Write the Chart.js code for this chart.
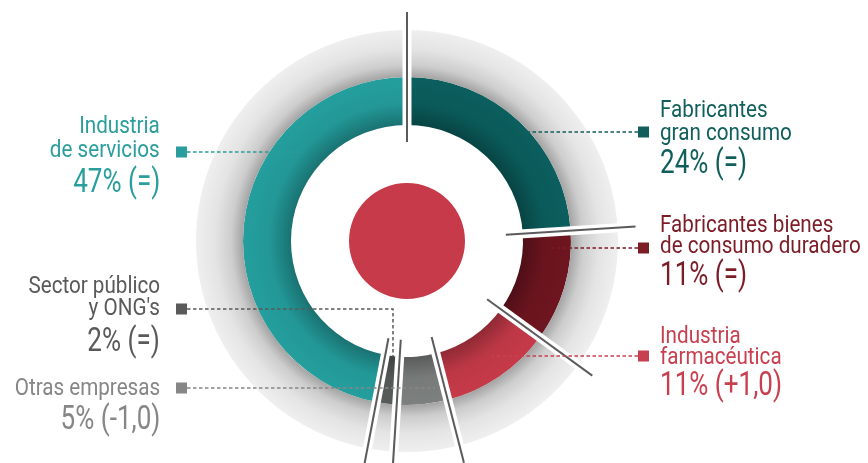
<!DOCTYPE html>
<html>
<head>
<meta charset="utf-8">
<script src="https://cdn.jsdelivr.net/npm/chart.js@4.4.1/dist/chart.umd.min.js"></script>
<style>
    html, body { margin: 0; padding: 0; background: #fff; overflow: hidden; }
    #wrap { position: relative; width: 868px; height: 463px; }
    #wrap canvas { position: absolute; left: 0; top: 0; }
    .lbl {
        position: absolute;
        white-space: nowrap;
        font-family: Roboto, "Open Sans", sans-serif;
        line-height: 1;
    }
</style>
</head>
<body>
<div id="wrap"><canvas id="sectorChart" width="868" height="463"></canvas></div>
<script>
// ========== datos ==========

const categories = [
    ['Fabricantes', 'gran consumo'],
    ['Fabricantes bienes', 'de consumo duradero'],
    ['Industria', 'farmacéutica'],
    ['Otras empresas'],
    ['Sector público', "y ONG's"],
    ['Industria', 'de servicios']
];
const shares = [24, 11, 11, 5, 2, 47];
const changes = ['(=)', '(=)', '(+1,0)', '(-1,0)', '(=)', '(=)'];

// ========== estilo / posiciones ==========

const SEG_COLORS = ['#0B5F5E', '#6E1520', '#C63A49', '#7C807F', '#575C5B', '#249F9E'];
const TEXT_COLORS = ['#105F5C', '#7B1C26', '#C8404F', '#868686', '#5A5A5A', '#2A9E9C'];
const CENTER_RED = '#C73A4A';
const RING_WEIGHTS = [47, 48, 58, 58];   // gris, color, hueco, centro

// side, baselines of the name lines, baseline of the value, leader y, leader end x, drop to y
const LABELS = [
    { side: 'right', base: [117, 140], valueBase: 173, lead: 132, endX: 512 },
    { side: 'right', base: [232, 253], valueBase: 285, lead: 248, endX: 548 },
    { side: 'right', base: [343, 364], valueBase: 395, lead: 356, endX: 492 },
    { side: 'left', base: [395], valueBase: 429, lead: 388, endX: 435 },
    { side: 'left', base: [293, 315], valueBase: 351, lead: 309, endX: 393, dropTo: 357 },
    { side: 'left', base: [133, 157], valueBase: 192, lead: 152, endX: 300 }
];

function shade(hex, f) {
    const n = parseInt(hex.slice(1), 16);
    const r = Math.round(((n >> 16) & 255) * f);
    const g = Math.round(((n >> 8) & 255) * f);
    const b = Math.round((n & 255) * f);
    return 'rgb(' + r + ',' + g + ',' + b + ')';
}

// radios de cada anillo a partir del área del gráfico
function ringGeom(chart, idx) {
    const a = chart.chartArea;
    const R = Math.min(a.right - a.left, a.bottom - a.top) / 2;
    const total = RING_WEIGHTS.reduce((s, w) => s + w, 0);
    const before = RING_WEIGHTS.slice(0, idx).reduce((s, w) => s + w, 0);
    const rout = R * (1 - before / total);
    const rin = rout - R * RING_WEIGHTS[idx] / total;
    return { cx: (a.left + a.right) / 2, cy: (a.top + a.bottom) / 2, rin: rin, rout: rout };
}

function validArea(chart) {
    const a = chart.chartArea;
    return a && isFinite(a.left) && a.right - a.left > 0 && a.bottom - a.top > 0;
}

// ========== plugin: separadores, guías y marcadores ==========

const decorPlugin = {
    id: 'decor',
    afterDatasetsDraw(chart) {
        const ctx = chart.ctx;
        const arcs = chart.getDatasetMeta(1).data;
        ctx.save();
        ctx.lineCap = 'butt';
        arcs.forEach(arc => {
            const ang = arc.startAngle;
            const c = Math.cos(ang), s = Math.sin(ang);
            ctx.strokeStyle = '#ffffff';
            ctx.lineWidth = 9;
            ctx.beginPath();
            ctx.moveTo(arc.x + c * 105, arc.y + s * 105);
            ctx.lineTo(arc.x + c * 216, arc.y + s * 216);
            ctx.stroke();
            ctx.strokeStyle = '#5b5b5b';
            ctx.lineWidth = 2;
            ctx.beginPath();
            ctx.moveTo(arc.x + c * 99, arc.y + s * 99);
            ctx.lineTo(arc.x + c * 229, arc.y + s * 229);
            ctx.stroke();
        });

        LABELS.forEach((l, i) => {
            const col = TEXT_COLORS[i];
            const sqX = l.side === 'right' ? 638 : 176;
            const startX = l.side === 'right' ? 638 : 187;
            ctx.strokeStyle = col;
            ctx.lineWidth = 1.5;
            ctx.setLineDash([3.5, 2.5]);
            ctx.beginPath();
            ctx.moveTo(startX, l.lead);
            ctx.lineTo(l.endX, l.lead);
            if (l.dropTo) ctx.lineTo(l.endX, l.dropTo);
            ctx.stroke();
            ctx.setLineDash([]);
            ctx.fillStyle = col;
            ctx.fillRect(sqX, l.lead - 5.5, 11, 11);
        });
        ctx.restore();
    }
};

// ========== gráfico ==========

const chart = new Chart(document.getElementById('sectorChart'), {
    type: 'doughnut',
    data: {
        labels: categories.map(c => c.join(' ')),
        datasets: [{
            // anillo gris exterior
            data: [100],
            weight: RING_WEIGHTS[0],
            borderWidth: 0,
            hoverBorderWidth: 0,
            backgroundColor: function(context) {
                const chart = context.chart;
                if (!validArea(chart)) return '#e4e4e4';
                const g = ringGeom(chart, 0);
                const grad = chart.ctx.createRadialGradient(g.cx, g.cy, g.rin, g.cx, g.cy, g.rout);
                grad.addColorStop(0, '#a4a4a4');
                grad.addColorStop(0.25, '#cdcdcd');
                grad.addColorStop(0.6, '#e4e4e4');
                grad.addColorStop(1, '#efefef');
                return grad;
            }
        }, {
            data: shares,
            weight: RING_WEIGHTS[1],
            borderWidth: 0,
            hoverBorderWidth: 0,
            backgroundColor: function(context) {
                const chart = context.chart;
                const base = SEG_COLORS[context.dataIndex];
                if (!validArea(chart)) return base;
                const g = ringGeom(chart, 1);
                const grad = chart.ctx.createRadialGradient(g.cx, g.cy, g.rin, g.cx, g.cy, g.rout);
                grad.addColorStop(0, shade(base, 0.72));
                grad.addColorStop(0.45, shade(base, 0.95));
                grad.addColorStop(1, base);
                return grad;
            }
        }, {
            // hueco blanco
            data: [100],
            weight: RING_WEIGHTS[2],
            borderWidth: 0,
            hoverBorderWidth: 0,
            backgroundColor: 'rgba(0,0,0,0)'
        }, {
            // círculo central
            data: [100],
            weight: RING_WEIGHTS[3],
            borderWidth: 0,
            hoverBorderWidth: 0,
            backgroundColor: CENTER_RED
        }]
    },
    options: {
        responsive: false,
        animation: false,
        cutout: 0,
        layout: {
            padding: { left: 196, right: 250, top: 30, bottom: 11 }
        },
        plugins: {
            legend: { display: false },
            tooltip: { enabled: false }
        },
        events: []
    },
    plugins: [decorPlugin]
});

// ========== etiquetas ==========

const wrap = document.getElementById('wrap');

function addLine(text, side, baseline, size, weight, color, sx) {
    const d = document.createElement('div');
    d.className = 'lbl';
    d.textContent = text;
    d.style.fontSize = size + 'px';
    d.style.fontWeight = weight;
    d.style.color = color;
    d.style.top = (baseline - 0.842 * size) + 'px';
    if (side === 'right') {
        d.style.left = '660px';
        d.style.transformOrigin = 'left center';
    } else {
        d.style.right = (868 - 160) + 'px';
        d.style.transformOrigin = 'right center';
    }
    d.style.transform = 'scaleX(' + sx + ')';
    wrap.appendChild(d);
}

categories.forEach((lines, i) => {
    const l = LABELS[i];
    lines.forEach((t, k) => addLine(t, l.side, l.base[k], 24, 400, TEXT_COLORS[i], 0.86));
    addLine(shares[i] + '% ' + changes[i], l.side, l.valueBase, 33, 400, TEXT_COLORS[i], 0.79);
});
</script>
</body>
</html>
